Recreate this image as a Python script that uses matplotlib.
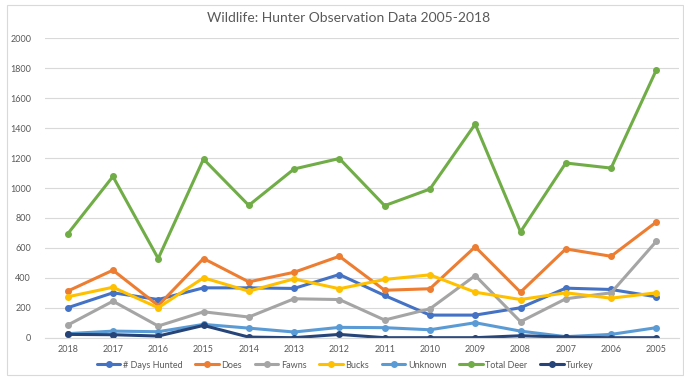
import matplotlib
matplotlib.use("Agg")
import matplotlib.pyplot as plt
from matplotlib.patches import Rectangle

years = ["2018", "2017", "2016", "2015", "2014", "2013", "2012",
         "2011", "2010", "2009", "2008", "2007", "2006", "2005"]

days_hunted = [200, 300, 255, 333, 333, 329, 422, 282, 151, 151, 200, 331, 322, 273]
does = [311, 451, 215, 529, 373, 437, 544, 317, 327, 607, 304, 593, 544, 773]
fawns = [84, 244, 78, 173, 138, 260, 255, 118, 193, 415, 107, 260, 300, 644]
bucks = [273, 337, 200, 400, 311, 393, 327, 389, 420, 304, 255, 300, 264, 300]
unknown = [27, 44, 40, 89, 64, 38, 69, 67, 53, 100, 44, 7, 22, 67]
total_deer = [693, 1077, 529, 1193, 884, 1127, 1197, 882, 993, 1427, 707, 1167, 1133, 1789]
turkey = [22, 20, 11, 82, 4, 0, 22, 0, 0, 0, 13, 4, 0, 0]

series = [
    ("# Days Hunted", days_hunted, "#4472C4"),
    ("Does", does, "#ED7D31"),
    ("Fawns", fawns, "#A5A5A5"),
    ("Bucks", bucks, "#FFC000"),
    ("Unknown", unknown, "#5B9BD5"),
    ("Total Deer", total_deer, "#70AD47"),
    ("Turkey", turkey, "#264478"),
]

plt.rcParams["font.family"] = ["Lato", "DejaVu Sans"]

fig = plt.figure(figsize=(6.84, 3.77), dpi=100)
fig.patches.append(Rectangle((7 / 684, 2 / 377), 676 / 684, 370 / 377,
                             transform=fig.transFigure, fill=False,
                             edgecolor="#d9d9d9", linewidth=0.8))

ax = fig.add_axes([45 / 684, 1 - 337.7 / 377, 634 / 684, 299.4 / 377])
x = list(range(len(years)))
for name, vals, color in series:
    ax.plot(x, vals, color=color, linewidth=2.2, marker="o", markersize=4,
            label=name, solid_joinstyle="round", solid_capstyle="round")

ax.set_xlim(-0.5, len(years) - 0.5)
ax.set_ylim(0, 2000)
ax.set_yticks(range(0, 2001, 200))
ax.set_xticks(x)
ax.set_xticklabels(years)
ax.grid(axis="y", color="#d9d9d9", linewidth=0.8)
ax.set_axisbelow(True)
for s in ["top", "right", "left"]:
    ax.spines[s].set_visible(False)
ax.spines["bottom"].set_color("#d9d9d9")
ax.tick_params(axis="both", length=0, labelsize=6.5, labelcolor="#595959")
ax.tick_params(axis="y", pad=10)
ax.tick_params(axis="x", pad=5)

fig.text(0.51, 1 - 18 / 377, "Wildlife: Hunter Observation Data 2005-2018",
         ha="center", va="center", fontsize=10, color="#595959")

leg = fig.legend(loc="center", bbox_to_anchor=(0.505, 1 - 365 / 377), ncol=7,
                 frameon=False, fontsize=6.5, handlelength=2.6,
                 columnspacing=1.4, handletextpad=0.3, labelcolor="#595959")

fig.savefig("out.png", dpi=100)
